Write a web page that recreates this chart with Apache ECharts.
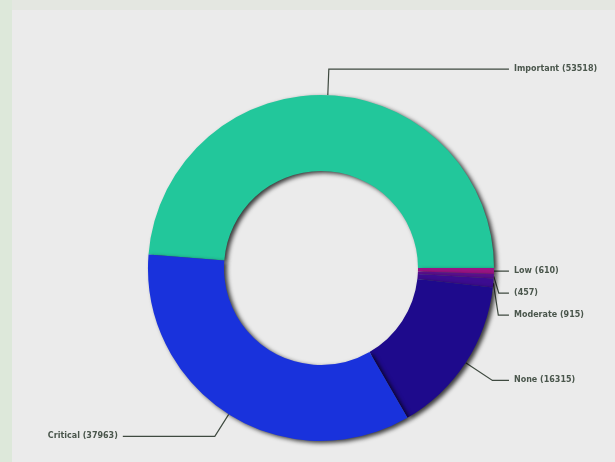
<!DOCTYPE html>
<html>
<head>
<meta charset="utf-8">
<style>
  html, body { margin: 0; padding: 0; background: #ebebeb; }
  #chart { width: 615px; height: 462px; }
</style>
<script src="https://cdn.jsdelivr.net/npm/echarts@6/dist/echarts.min.js"></script>
</head>
<body>
<div id="chart"></div>
<script>
// Severity breakdown (counts per category)
const categories = ['Important', 'Low', '', 'Moderate', 'None', 'Critical'];
const counts = [53518, 610, 457, 915, 16315, 37963];
const sliceColors = ['#22c79b', '#9a1484', '#5a108e', '#3c0c90', '#1e0a8c', '#1932dc'];
// leader line segment lengths per slice: [radial part, horizontal part]
const leaderLengths = [[26, 10], [5, 10], [5, 10], [5, 10], [32, 8], [26, 92]];

const data = categories.map((name, i) => ({
  name: name,
  value: counts[i],
  itemStyle: { color: sliceColors[i] },
  labelLine: { length: leaderLengths[i][0], length2: leaderLengths[i][1] }
}));

const chart = echarts.init(document.getElementById('chart'), null, { renderer: 'canvas' });

chart.setOption({
  backgroundColor: '#ebebeb',
  animation: false,
  graphic: [
    { type: 'rect', shape: { x: 0, y: 0, width: 12, height: 462 }, style: { fill: '#dde8da' }, z: -10 },
    { type: 'rect', shape: { x: 12, y: 0, width: 603, height: 10 }, style: { fill: '#e4e7e1' }, z: -10 }
  ],
  series: [{
    type: 'pie',
    center: [321, 268],
    radius: [97, 173],
    startAngle: 175.5,
    clockwise: true,
    avoidLabelOverlap: true,
    data: data,
    itemStyle: {
      shadowBlur: 4,
      shadowColor: 'rgba(0,0,0,0.75)',
      shadowOffsetX: 3,
      shadowOffsetY: 2
    },
    label: {
      show: true,
      formatter: p => (p.name ? p.name + ' ' : '') + '(' + p.value + ')',
      fontFamily: 'DejaVu Sans',
      fontSize: 8,
      fontWeight: 'bold',
      color: '#4a564c',
      lineHeight: 20,
      alignTo: 'labelLine',
      edgeDistance: 4,
      overflow: 'none'
    },
    labelLine: {
      show: true,
      lineStyle: { color: '#3f4a40', width: 1.2 }
    }
  }]
});
</script>
</body>
</html>
